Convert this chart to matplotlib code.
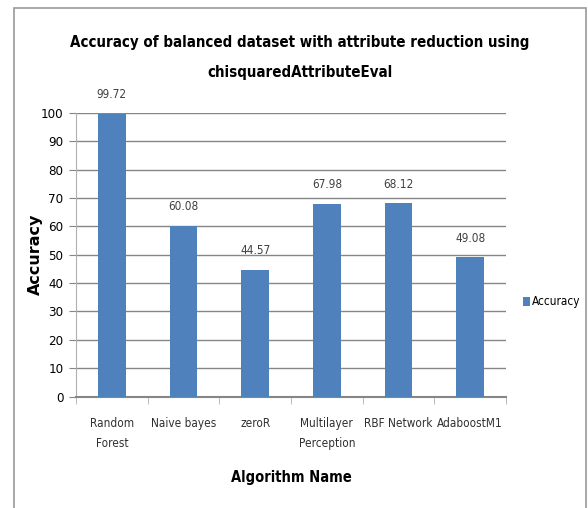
import matplotlib
matplotlib.use("Agg")
import matplotlib.pyplot as plt
from matplotlib.patches import Rectangle
import numpy as np

categories = ["Random\nForest", "Naive bayes", "zeroR", "Multilayer\nPerception",
              "RBF Network", "AdaboostM1"]
accuracy = [99.72, 60.08, 44.57, 67.98, 68.12, 49.08]
value_labels = ["99.72", "60.08", "44.57", "67.98", "68.12", "49.08"]
yticks = [0, 10, 20, 30, 40, 50, 60, 70, 80, 90, 100]

cond = dict(family="DejaVu Sans", stretch="condensed")
bar_color = "#4f81bd"
grid_color = "#868686"

fig = plt.figure(figsize=(5.88, 5.08), dpi=100)
fig.patch.set_facecolor("white")

# outer chart frame
fig.add_artist(Rectangle((14 / 588, -0.01), 572 / 588, 1 - 8 / 508 + 0.01,
                         transform=fig.transFigure, fill=False,
                         edgecolor="#9a9a9a", linewidth=1.2))

ax = fig.add_axes([76 / 588, 1 - 396.5 / 508, 430 / 588, 283.5 / 508])
x = np.arange(len(categories))
ax.bar(x, accuracy, width=0.39, color=bar_color, zorder=3, label="Accuracy")

for xi, v, s in zip(x, accuracy, value_labels):
    ax.text(xi, v + 4.5, s, ha="center", va="bottom", fontsize=8.5,
            color="#404040", **cond)

ax.set_xlim(-0.5, len(categories) - 0.5)
ax.set_ylim(0, 100)
ax.set_yticks(yticks)
ax.set_yticklabels([str(t) for t in yticks], fontsize=9.5, **cond)
ax.yaxis.grid(True, color=grid_color, linewidth=1, zorder=0)
ax.set_axisbelow(True)

ax.set_xticks(x)
ax.set_xticklabels(categories, fontsize=8.5, color="#303030",
                   linespacing=1.7, **cond)
ax.tick_params(axis="x", length=0, pad=15)
ax.set_xticks(np.arange(len(categories) + 1) - 0.5, minor=True)
ax.tick_params(axis="x", which="minor", length=5, color="#b0b0b0")
ax.tick_params(axis="y", length=5, color=grid_color, pad=4)

for side in ["top", "right"]:
    ax.spines[side].set_visible(False)
ax.spines["left"].set_color("#b0b0b0")
ax.spines["bottom"].set_color(grid_color)
ax.spines["bottom"].set_linewidth(1.5)

ax.set_ylabel("Accuracy", fontsize=11.5, fontweight="bold", family="DejaVu Sans")
ax.yaxis.set_label_coords((43 - 76) / 430, 0.5)
ax.set_xlabel("Algorithm Name", fontsize=10.5, fontweight="bold", **cond)
ax.xaxis.set_label_coords((291 - 76) / 430, -(470 - 396.5) / 283.5)

fig.text(300 / 588, 1 - 43 / 508, "Accuracy of balanced dataset with attribute reduction using",
         ha="center", va="center", fontsize=10.8, fontweight="bold", **cond)
fig.text(300 / 588, 1 - 72 / 508, "chisquaredAttributeEval",
         ha="center", va="center", fontsize=10.8, fontweight="bold", **cond)

fig.legend(loc="center left", bbox_to_anchor=(512 / 588, 1 - 302 / 508),
           frameon=False, prop={"family": "DejaVu Sans", "stretch": "condensed", "size": 8.5},
           handlelength=0.6, handleheight=0.9, handletextpad=0.2)

fig.savefig("out.png", dpi=100)
